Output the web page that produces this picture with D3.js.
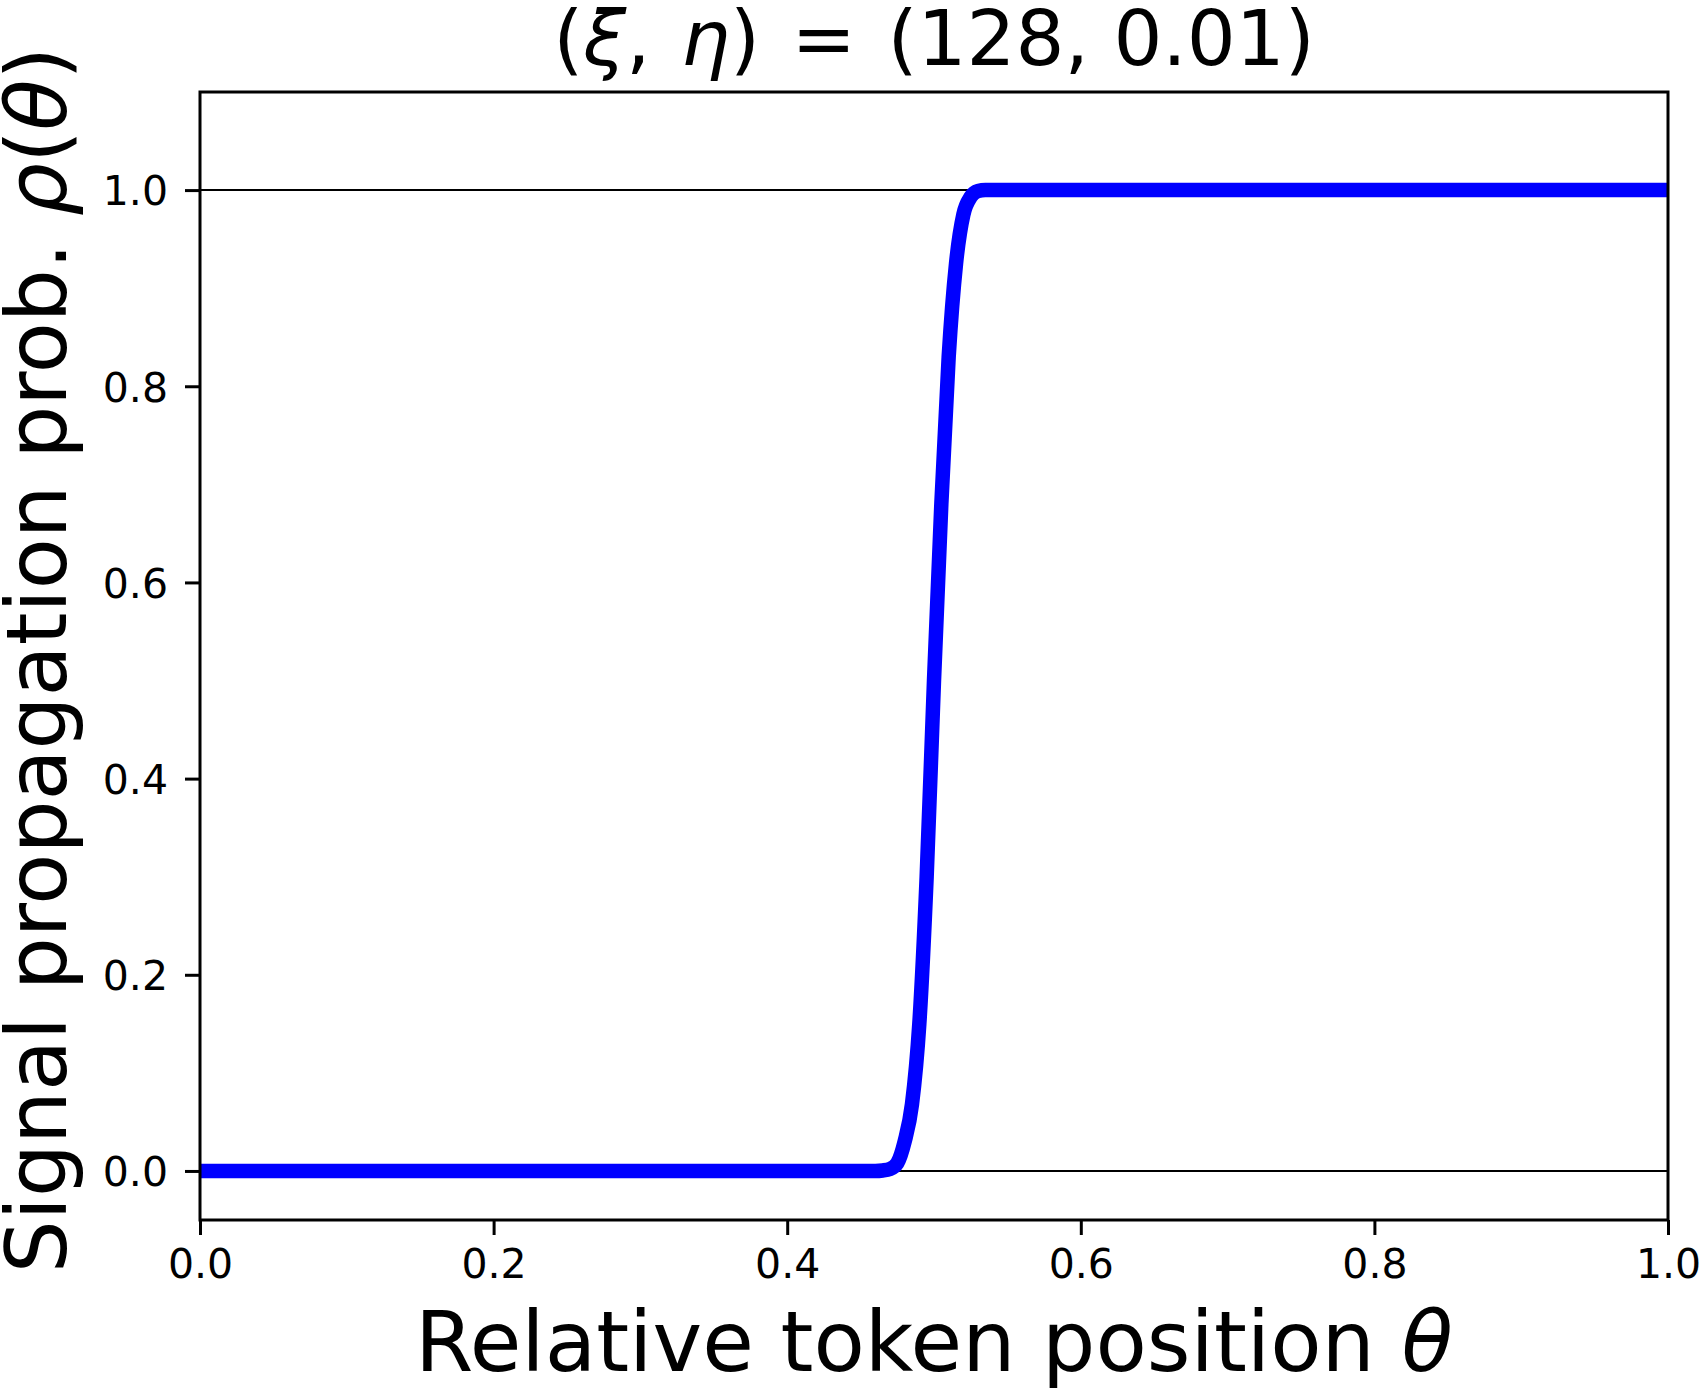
<!DOCTYPE html>
<html>
<head>
<meta charset="utf-8">
<script src="https://cdn.jsdelivr.net/npm/d3@7"></script>
<style>
  html, body { margin: 0; padding: 0; background: #fff; }
  svg { display: block; }
  text { font-family: "DejaVu Sans", sans-serif; fill: #000; }
</style>
</head>
<body>
<svg id="chart" width="1700" height="1390"></svg>
<script>
// ---- data ----
const theta = [0.0, 0.1, 0.2, 0.3, 0.4, 0.46, 0.465, 0.47, 0.475, 0.48, 0.485, 0.49, 0.495, 0.5, 0.505, 0.51, 0.515, 0.52, 0.525, 0.53, 0.535, 0.54, 0.6, 0.7, 0.8, 0.9, 1.0];
const rho   = [0.0, 0.0, 0.0, 0.0, 0.0, 0.0, 0.0005, 0.002, 0.008, 0.03, 0.068, 0.15, 0.30, 0.50, 0.68, 0.83, 0.925, 0.975, 0.993, 0.999, 1.0, 1.0, 1.0, 1.0, 1.0, 1.0, 1.0];
const xTicks = [0.0, 0.2, 0.4, 0.6, 0.8, 1.0];
const yTicks = [0.0, 0.2, 0.4, 0.6, 0.8, 1.0];
const refLines = [0.0, 1.0];
const xDomain = [0, 1];
const yDomain = [-0.05, 1.1];
const titleValues = "(128, 0.01)";
const xLabelText = "Relative token position ";
const yLabelText = "Signal propagation prob. ";

// ---- layout ----
const mLeft = 200, mRight = 1668, mTop = 92, mBottom = 1220;
const svg = d3.select("#chart");

const x = d3.scaleLinear().domain(xDomain).range([mLeft, mRight]);
const y = d3.scaleLinear().domain(yDomain).range([mBottom, mTop]);

svg.append("defs").append("clipPath").attr("id", "clip")
  .append("rect").attr("x", mLeft).attr("y", mTop)
  .attr("width", mRight - mLeft).attr("height", mBottom - mTop);

// reference horizontal lines
svg.append("g").selectAll("line").data(refLines).join("line")
  .attr("x1", x(0)).attr("x2", x(1))
  .attr("y1", d => y(d)).attr("y2", d => y(d))
  .attr("stroke", "#000").attr("stroke-width", 2);

// curve
const pts = theta.map((t, i) => [t, rho[i]]);
const line = d3.line().x(d => x(d[0])).y(d => y(d[1])).curve(d3.curveMonotoneX);
svg.append("path").datum(pts)
  .attr("clip-path", "url(#clip)")
  .attr("d", line)
  .attr("fill", "none")
  .attr("stroke", "#0000ff")
  .attr("stroke-width", 14.5)
  .attr("stroke-linejoin", "round");

// axes
const xAxis = d3.axisBottom(x).tickValues(xTicks).tickFormat(d3.format(".1f")).tickSize(15).tickPadding(14);
const yAxis = d3.axisLeft(y).tickValues(yTicks).tickFormat(d3.format(".1f")).tickSize(15).tickPadding(17);

const gx = svg.append("g").attr("transform", `translate(0,${mBottom})`).call(xAxis);
const gy = svg.append("g").attr("transform", `translate(${mLeft},0)`).call(yAxis);
[gx, gy].forEach(g => {
  g.select(".domain").remove();
  g.selectAll(".tick line").attr("stroke", "#000").attr("stroke-width", 3);
  g.selectAll(".tick text").attr("font-size", 41).attr("font-family", "DejaVu Sans").attr("fill", "#000");
});
gx.selectAll(".tick text").attr("dy", "0.71em");
gy.selectAll(".tick text").attr("dy", "0.36em");

// spines
svg.append("rect").attr("x", mLeft).attr("y", mTop)
  .attr("width", mRight - mLeft).attr("height", mBottom - mTop)
  .attr("fill", "none").attr("stroke", "#000").attr("stroke-width", 3);

// title
const title = svg.append("text")
  .attr("x", (mLeft + mRight) / 2).attr("y", 65)
  .attr("text-anchor", "middle").attr("font-size", 77);
title.append("tspan").text("(");
title.append("tspan").attr("font-style", "italic").text("ξ");
title.append("tspan").text(",");
title.append("tspan").attr("dx", 6).text(" ");
title.append("tspan").attr("font-style", "italic").text("η");
title.append("tspan").text(")");
title.append("tspan").attr("dx", 7).text(" = ");
title.append("tspan").attr("dx", 7).text(titleValues);

// x label
const xl = svg.append("text")
  .attr("x", (mLeft + mRight) / 2).attr("y", 1371)
  .attr("text-anchor", "middle").attr("font-size", 84);
xl.append("tspan").text(xLabelText);
xl.append("tspan").attr("font-style", "italic").text("θ");

// y label
const yl = svg.append("text")
  .attr("transform", `translate(66,660) rotate(-90)`)
  .attr("text-anchor", "middle").attr("font-size", 83.5);
yl.append("tspan").text(yLabelText);
yl.append("tspan").attr("font-style", "italic").text("ρ");
yl.append("tspan").text("(");
yl.append("tspan").attr("font-style", "italic").text("θ");
yl.append("tspan").text(")");
</script>
</body>
</html>
